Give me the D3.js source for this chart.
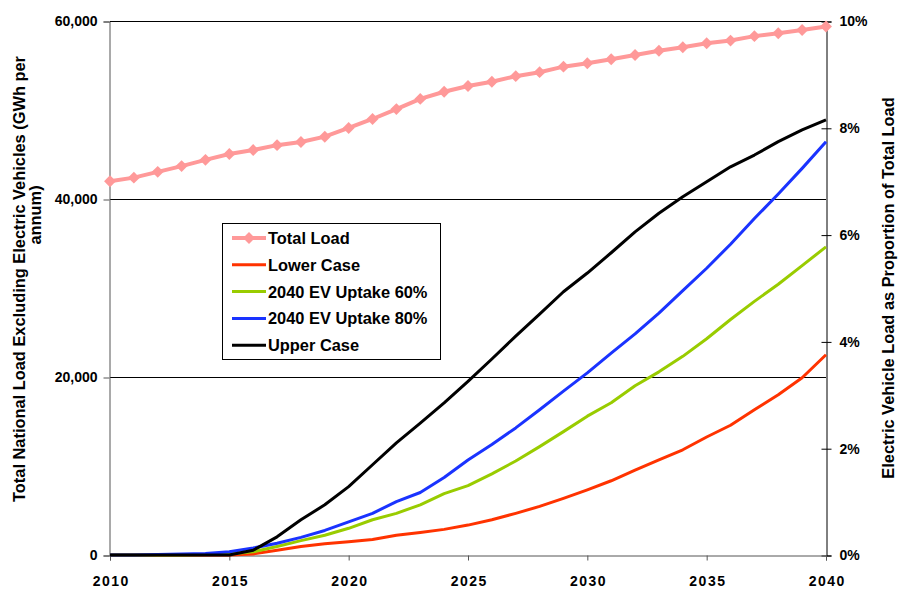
<!DOCTYPE html>
<html>
<head>
<meta charset="utf-8">
<script src="https://cdn.jsdelivr.net/npm/d3@7"></script>
<style>
  body { margin: 0; background: #fff; }
  text { font-family: "Liberation Sans", Arial, sans-serif; font-weight: bold; font-size: 16.4px; fill: #000; }
</style>
</head>
<body>
<svg width="900" height="589"></svg>
<script>
// years 2010..2040
let years = [2010,2011,2012,2013,2014,2015,2016,2017,2018,2019,2020,2021,2022,2023,2024,2025,
  2026,2027,2028,2029,2030,2031,2032,2033,2034,2035,2036,2037,2038,2039,2040]

// total load (GWh per annum), left axis
let totalLoad = [42000,42400,43050,43700,44400,45050,45500,46050,46400,47000,47980,48990,50100,51250,52050,52700,
  53180,53800,54250,54870,55250,55700,56180,56650,57050,57500,57800,58300,58620,58990,59380]

// EV load as % of total, right axis
let lowerCase = [0,0,0,0,0,0,0.02,0.09,0.16,0.21,0.25,0.29,0.37,0.42,0.48,0.56,
  0.66,0.78,0.91,1.06,1.22,1.39,1.59,1.78,1.97,2.21,2.43,2.72,3.0,3.32,3.75]
let uptake60 = [0,0,0,0,0.01,0.02,0.06,0.16,0.27,0.37,0.5,0.66,0.78,0.94,1.15,1.3,
  1.52,1.76,2.03,2.31,2.6,2.85,3.17,3.43,3.72,4.05,4.41,4.75,5.07,5.42,5.77]
let uptake80 = [0,0,0.01,0.02,0.03,0.06,0.13,0.22,0.33,0.46,0.62,0.78,1.0,1.17,1.45,1.78,
  2.07,2.38,2.72,3.07,3.41,3.78,4.14,4.53,4.95,5.37,5.82,6.3,6.76,7.24,7.74]
let upperCase = [0,0,0,0,0,0,0.09,0.34,0.66,0.94,1.28,1.69,2.1,2.47,2.85,3.25,
  3.67,4.1,4.51,4.93,5.28,5.66,6.05,6.4,6.71,6.99,7.27,7.49,7.74,7.96,8.15]

let leftTicks = [0, 20000, 40000, 60000]
let rightTicks = [0, 2, 4, 6, 8, 10]
let xTicks = [2010, 2015, 2020, 2025, 2030, 2035, 2040]

let svg = d3.select('svg')

let plotLeft = 110, plotRight = 826, plotTop = 21, plotBottom = 555

let x = d3.scaleLinear().domain([2010, 2040]).range([plotLeft, plotRight])
let yL = d3.scaleLinear().domain([0, 60000]).range([plotBottom, plotTop])
let yR = d3.scaleLinear().domain([0, 10]).range([plotBottom, plotTop])

// gridlines (20k, 40k) + top border
svg.append('g')
    .selectAll('line')
    .data([20000, 40000, 60000])
    .enter().append('line')
    .attr('x1', plotLeft).attr('x2', plotRight)
    .attr('y1', d => Math.round(yL(d)) + 0.5)
    .attr('y2', d => Math.round(yL(d)) + 0.5)
    .attr('stroke', '#000')
    .attr('stroke-width', 1)

// left axis
let gLeft = svg.append('g').attr('transform', 'translate(' + (plotLeft - 0.5) + ',0.5)')
    .call(d3.axisLeft(yL).tickValues(leftTicks).tickFormat(d3.format(',')).tickSizeOuter(0).tickSize(6).tickPadding(6))
gLeft.select('.domain').attr('stroke', '#555')
gLeft.selectAll('.tick line').attr('stroke', '#555')

// right axis, ticks cross the line
let gRight = svg.append('g').attr('transform', 'translate(' + (plotRight + 0.5) + ',0.5)')
    .call(d3.axisRight(yR).tickValues(rightTicks).tickFormat(d => d + '%').tickSizeOuter(0).tickSize(5).tickPadding(9))
gRight.selectAll('.tick line').attr('x1', -5)
gRight.selectAll('.tick text').attr('x', 13)

// bottom axis
let gBottom = svg.append('g').attr('transform', 'translate(0,' + (plotBottom + 0.5) + ')')
    .call(d3.axisBottom(x).tickValues(xTicks).tickFormat(d3.format('d')).tickSizeOuter(0).tickSize(5).tickPadding(16))
gBottom.select('.domain').attr('stroke', '#555')
gBottom.selectAll('.tick line').attr('stroke', '#555')

svg.selectAll('.tick text')
    .style('font-family', '"Liberation Sans", Arial, sans-serif')
    .style('font-weight', 'bold')
    .style('font-size', '14px')
    .attr('fill', '#000')

gBottom.selectAll('.tick text')
    .style('letter-spacing', '1.5px')
    .attr('dx', '0.75')

// EV series (right axis)
let evSeries = [
    { name: 'Lower Case', values: lowerCase, color: '#ff3300' },
    { name: '2040 EV Uptake 60%', values: uptake60, color: '#99cc00' },
    { name: '2040 EV Uptake 80%', values: uptake80, color: '#1a33ff' },
    { name: 'Upper Case', values: upperCase, color: '#000000' }
]

let evLine = d3.line()
    .x((d, i) => x(years[i]))
    .y(d => yR(d))

svg.append('g')
    .selectAll('path')
    .data(evSeries)
    .enter().append('path')
    .attr('d', d => evLine(d.values))
    .attr('fill', 'none')
    .attr('stroke', d => d.color)
    .attr('stroke-width', 3)
    .attr('stroke-linejoin', 'round')

// total load (left axis)
let loadLine = d3.line()
    .x((d, i) => x(years[i]))
    .y(d => yL(d))

svg.append('path')
    .attr('d', loadLine(totalLoad))
    .attr('fill', 'none')
    .attr('stroke', '#ff9999')
    .attr('stroke-width', 4)

let diamond = d3.symbol().type(d3.symbolDiamond2).size(90)

svg.append('g')
    .selectAll('path')
    .data(totalLoad)
    .enter().append('path')
    .attr('d', diamond)
    .attr('transform', (d, i) => 'translate(' + x(years[i]) + ',' + yL(d) + ')')
    .attr('fill', '#ff9999')

// legend
let legend = svg.append('g').attr('transform', 'translate(222,223)')
legend.append('rect')
    .attr('x', 0.5).attr('y', 0.5)
    .attr('width', 218).attr('height', 136)
    .attr('fill', '#fff').attr('stroke', '#000')

let legendItems = [{ name: 'Total Load', color: '#ff9999', marker: true }].concat(evSeries)

let rows = legend.selectAll('g.row')
    .data(legendItems)
    .enter().append('g')
    .attr('class', 'row')
    .attr('transform', (d, i) => 'translate(0,' + (15 + i * 26.8) + ')')

rows.append('line')
    .attr('x1', 10).attr('x2', 44)
    .attr('y1', 0).attr('y2', 0)
    .attr('stroke', d => d.color)
    .attr('stroke-width', d => d.marker ? 4 : 3)

rows.filter(d => d.marker).append('path')
    .attr('d', diamond)
    .attr('transform', 'translate(27,0)')
    .attr('fill', '#ff9999')

rows.append('text')
    .attr('x', 46).attr('y', 6)
    .text(d => d.name)

// axis titles
svg.append('text')
    .attr('transform', 'translate(25,279) rotate(-90)')
    .attr('text-anchor', 'middle')
    .text('Total National Load Excluding Electric Vehicles (GWh per')
svg.append('text')
    .attr('transform', 'translate(41,215) rotate(-90)')
    .attr('text-anchor', 'middle')
    .text('annum)')

svg.append('text')
    .attr('transform', 'translate(894,288) rotate(-90)')
    .attr('text-anchor', 'middle')
    .text('Electric Vehicle Load as Proportion of Total Load')
</script>
</body>
</html>
